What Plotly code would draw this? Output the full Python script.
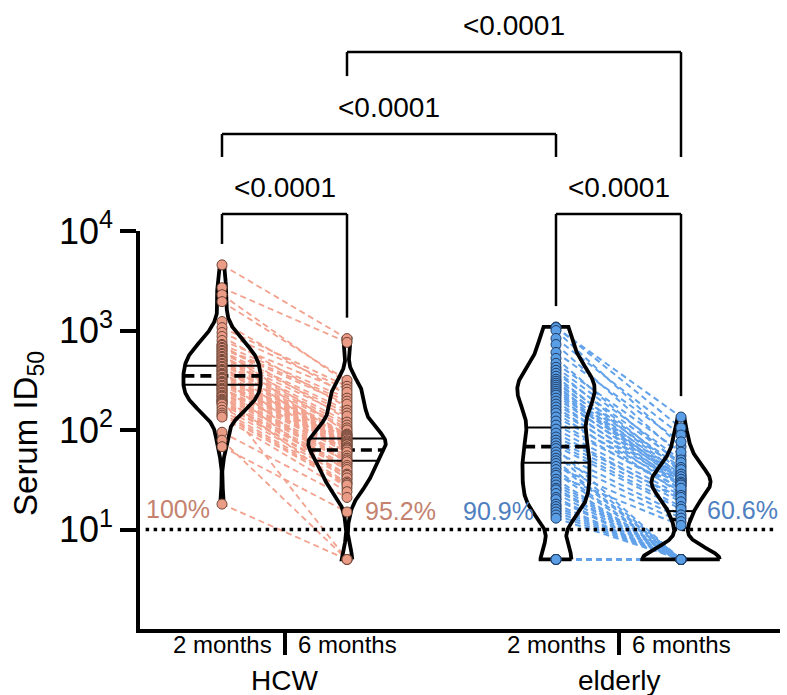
import numpy as np
import plotly.graph_objects as go

# ---------------- data ----------------
cohorts = ["HCW", "elderly"]
timepoints = ["2 months", "6 months"]

# paired serum ID50 titres (same participant at the same index); <LOD plotted at 5
hcw_2m = [4570, 2690, 2290, 1950, 1230, 1070, 955, 871, 794, 724,
          708, 676, 661, 631, 617, 589, 575, 550, 537, 513,
          501, 490, 468, 457, 437, 427, 407, 398, 389, 372,
          363, 355, 339, 331, 324, 309, 302, 295, 282, 275,
          263, 257, 251, 240, 234, 224, 219, 214, 204, 200,
          195, 191, 186, 182, 170, 158, 148, 141, 135, 95,
          79, 68, 18]
hcw_6m = [830, 760, 295, 316, 224, 275, 257, 170, 240, 209,
          129, 195, 182, 95, 158, 148, 79, 138, 120, 112,
          69, 105, 100, 91, 58, 89, 87, 85, 46, 83,
          81, 78, 76, 38, 74, 72, 71, 68, 66, 32,
          65, 63, 60, 55, 52, 50, 26, 48, 44, 5,
          42, 40, 36, 35, 33, 30, 29, 28, 24, 21,
          5, 15, 5]
elderly_2m = [1085, 1070, 1000, 832, 724, 603, 525, 468, 427, 398,
              372, 347, 324, 309, 295, 282, 269, 257, 245, 234,
              224, 209, 195, 182, 170, 158, 148, 135, 123, 112,
              102, 93, 85, 79, 74, 69, 65, 60, 56, 52,
              49, 46, 43, 40, 37, 35, 32, 30, 28, 26,
              25, 23, 21, 20, 18, 17, 16, 15, 14, 13,
              5, 5, 5, 5, 5, 5]
elderly_6m = [105, 135, 68, 89, 55, 76, 44, 60, 50, 38,
              47, 35, 42, 33, 40, 31, 36, 32, 30, 34,
              28, 32, 27, 30, 25, 29, 23, 28, 24, 26,
              22, 20, 21, 19, 17, 16, 5, 14, 5, 13,
              5, 5, 12, 5, 5, 11, 5, 5, 5, 5,
              5, 5, 5, 5, 5, 5, 5, 5, 5, 5,
              5, 5, 5, 5, 5, 5]

# geometric mean (dashed) and 95% CI (solid) drawn across each violin: [2 months, 6 months]
hcw_gmt = [350, 63]
hcw_ci_low = [285, 49]
hcw_ci_high = [442, 82]
elderly_gmt = [68, 12.6]
elderly_ci_low = [47, 10.4]
elderly_ci_high = [106, 15.3]

lod = 10
y_tick_values = [10, 100, 1000, 10000]
p_labels = ["<0.0001", "<0.0001", "<0.0001", "<0.0001"]

# ---------------- style ----------------
FONT = "Liberation Sans, Arial, Helvetica, sans-serif"
STYLE = {
    "HCW": dict(line="#f2a28e", dot="#eb9c87", dotline="#6e4536", text="#c4826f",
                bw=[0.12, 0.12]),
    "elderly": dict(line="#62a2ea", dot="#5a9ee6", dotline="#1f3d66", text="#4f7fc0",
                    bw=[0.16, 0.12]),
}
GROUP_X = {"HCW": 0.0, "elderly": 2.672}
X_RANGE = [-0.656, 4.464]
Y_RANGE = [0, 4]
HALF_W = 0.31

groups = [
    ("HCW", hcw_2m, hcw_6m, hcw_gmt, hcw_ci_low, hcw_ci_high),
    ("elderly", elderly_2m, elderly_6m, elderly_gmt, elderly_ci_low, elderly_ci_high),
]

fig = go.Figure()

# paired dashed lines
for name, a, b, *_ in groups:
    x0 = GROUP_X[name]
    xs, ys = [], []
    for va, vb in zip(a, b):
        xs += [x0, x0 + 1, None]
        ys += [np.log10(va), np.log10(vb), None]
    fig.add_trace(go.Scatter(x=xs, y=ys, mode="lines", hoverinfo="skip",
                             line=dict(color=STYLE[name]["line"],
                                       width=1.8 if name == "HCW" else 2.0,
                                       dash="6px,4px")))

# limit of detection
fig.add_trace(go.Scatter(x=[X_RANGE[0] + 0.045, X_RANGE[1] - 0.02],
                         y=[np.log10(lod)] * 2, mode="lines", hoverinfo="skip",
                         line=dict(color="black", width=3.5, dash="3.5px,4.5px")))

# violins (Gaussian KDE in log space, truncated at min/max) + GMT / CI lines
for name, a, b, gmt, lo, hi in groups:
    for k, vals in enumerate([a, b]):
        c = GROUP_X[name] + k
        bw = STYLE[name]["bw"][k]
        lv = np.log10(np.asarray(vals, dtype=float))
        t = np.linspace(lv.min(), lv.max(), 400)
        dens = np.exp(-0.5 * ((t[:, None] - lv[None, :]) / bw) ** 2).sum(axis=1)
        w = dens / dens.max() * HALF_W
        fig.add_trace(go.Scatter(
            x=np.r_[c + w, (c - w)[::-1], c + w[0]],
            y=np.r_[t, t[::-1], t[0]],
            mode="lines", hoverinfo="skip",
            line=dict(color="black", width=3.8)))
        for level, dash, lw in [(gmt[k], "11px,6px", 3.6), (lo[k], "solid", 2.0),
                                (hi[k], "solid", 2.0)]:
            L = np.log10(level)
            hw = float(np.interp(L, t, w))
            fig.add_trace(go.Scatter(x=[c - hw, c + hw], y=[L, L], mode="lines",
                                     hoverinfo="skip",
                                     line=dict(color="black", width=lw, dash=dash)))

# dots
for name, a, b, *_ in groups:
    for k, vals in enumerate([a, b]):
        c = GROUP_X[name] + k
        fig.add_trace(go.Scatter(
            x=[c] * len(vals), y=np.log10(vals), mode="markers", hoverinfo="skip",
            marker=dict(size=10, color=STYLE[name]["dot"],
                        line=dict(color=STYLE[name]["dotline"], width=1))))

annotations = []
shapes = []

# percentage above LOD
pct_pos = {("HCW", 0): (-0.352, 1.21), ("HCW", 1): (1.424, 1.19),
           ("elderly", 0): (2.208, 1.19), ("elderly", 1): (4.164, 1.20)}
for name, a, b, *_ in groups:
    for k, vals in enumerate([a, b]):
        p = 100.0 * np.mean(np.asarray(vals) > lod)
        txt = f"{p:.1f}".rstrip("0").rstrip(".") + "%"
        px, py = pct_pos[(name, k)]
        annotations.append(dict(x=px, y=py, xref="x", yref="y", text=txt,
                                showarrow=False, xanchor="center", yanchor="middle",
                                font=dict(size=25, color=STYLE[name]["text"], family=FONT)))

# x-axis labels
for name in cohorts:
    g = GROUP_X[name]
    for k, tp in enumerate(timepoints):
        annotations.append(dict(x=g + k, y=-0.039, xref="x", yref="paper", text=tp,
                                showarrow=False, xanchor="center", yanchor="middle",
                                font=dict(size=24, color="black", family=FONT)))
    annotations.append(dict(x=g + 0.5, y=-0.129, xref="x", yref="paper", text=name,
                            showarrow=False, xanchor="center", yanchor="middle",
                            font=dict(size=28, color="black", family=FONT)))

# y title
annotations.append(dict(x=-0.175, y=0.49, xref="paper", yref="paper",
                        text="Serum ID<sub>50</sub>", textangle=-90, showarrow=False,
                        xanchor="center", yanchor="middle",
                        font=dict(size=33, color="black", family=FONT)))

# significance brackets (levels in log-axis units, mapped to paper coords)
def yp(L):
    return (L - Y_RANGE[0]) / (Y_RANGE[1] - Y_RANGE[0])

tops = {("HCW", 0): np.log10(max(hcw_2m)), ("HCW", 1): np.log10(max(hcw_6m)),
        ("elderly", 0): np.log10(max(elderly_2m)), ("elderly", 1): np.log10(max(elderly_6m))}
GAP = 0.21
brackets = [
    (("HCW", 0), ("HCW", 1), 4.172, None, None, p_labels[0]),
    (("elderly", 0), ("elderly", 1), 4.172, None, None, p_labels[1]),
    (("HCW", 0), ("elderly", 0), 4.975, 4.744, 4.744, p_labels[2]),
    (("HCW", 1), ("elderly", 1), 5.798, 5.557, 4.744, p_labels[3]),
]
for ka, kb, level, la, lb, txt in brackets:
    xa = GROUP_X[ka[0]] + ka[1]
    xb = GROUP_X[kb[0]] + kb[1]
    la = tops[ka] + GAP if la is None else la
    lb = tops[kb] + GAP if lb is None else lb
    line = dict(color="black", width=2.5)
    shapes.append(dict(type="line", xref="x", yref="paper", x0=xa, x1=xb,
                       y0=yp(level), y1=yp(level), line=line))
    shapes.append(dict(type="line", xref="x", yref="paper", x0=xa, x1=xa,
                       y0=yp(level), y1=yp(la), line=line))
    shapes.append(dict(type="line", xref="x", yref="paper", x0=xb, x1=xb,
                       y0=yp(level), y1=yp(lb), line=line))
    annotations.append(dict(x=(xa + xb) / 2, y=yp(level + 0.27), xref="x", yref="paper",
                            text=txt, showarrow=False, xanchor="center", yanchor="middle",
                            font=dict(size=28, color="black", family=FONT)))

fig.update_layout(
    width=787, height=695,
    margin=dict(l=140, r=7, t=231, b=66),
    plot_bgcolor="white", paper_bgcolor="white",
    showlegend=False,
    font=dict(family=FONT, color="black"),
    annotations=annotations, shapes=shapes,
)
fig.update_xaxes(range=X_RANGE, showgrid=False, zeroline=False, showline=True,
                 linecolor="black", linewidth=3.5, ticks="outside",
                 tickvals=[GROUP_X[n] + 0.5 for n in cohorts], ticklen=22, tickwidth=4,
                 tickcolor="black", showticklabels=False)
fig.update_yaxes(range=Y_RANGE, showgrid=False, zeroline=False, showline=True,
                 linecolor="black", linewidth=3.5, ticks="outside",
                 tickvals=[float(np.log10(v)) for v in y_tick_values],
                 ticktext=[f"10<sup>{int(round(np.log10(v)))}</sup>" for v in y_tick_values],
                 ticklen=16, tickwidth=3.5, tickcolor="black",
                 tickfont=dict(size=36, color="black", family=FONT))

fig.write_html("out.html", config={"displayModeBar": False},
               post_script="document.body.style.margin='0';")
